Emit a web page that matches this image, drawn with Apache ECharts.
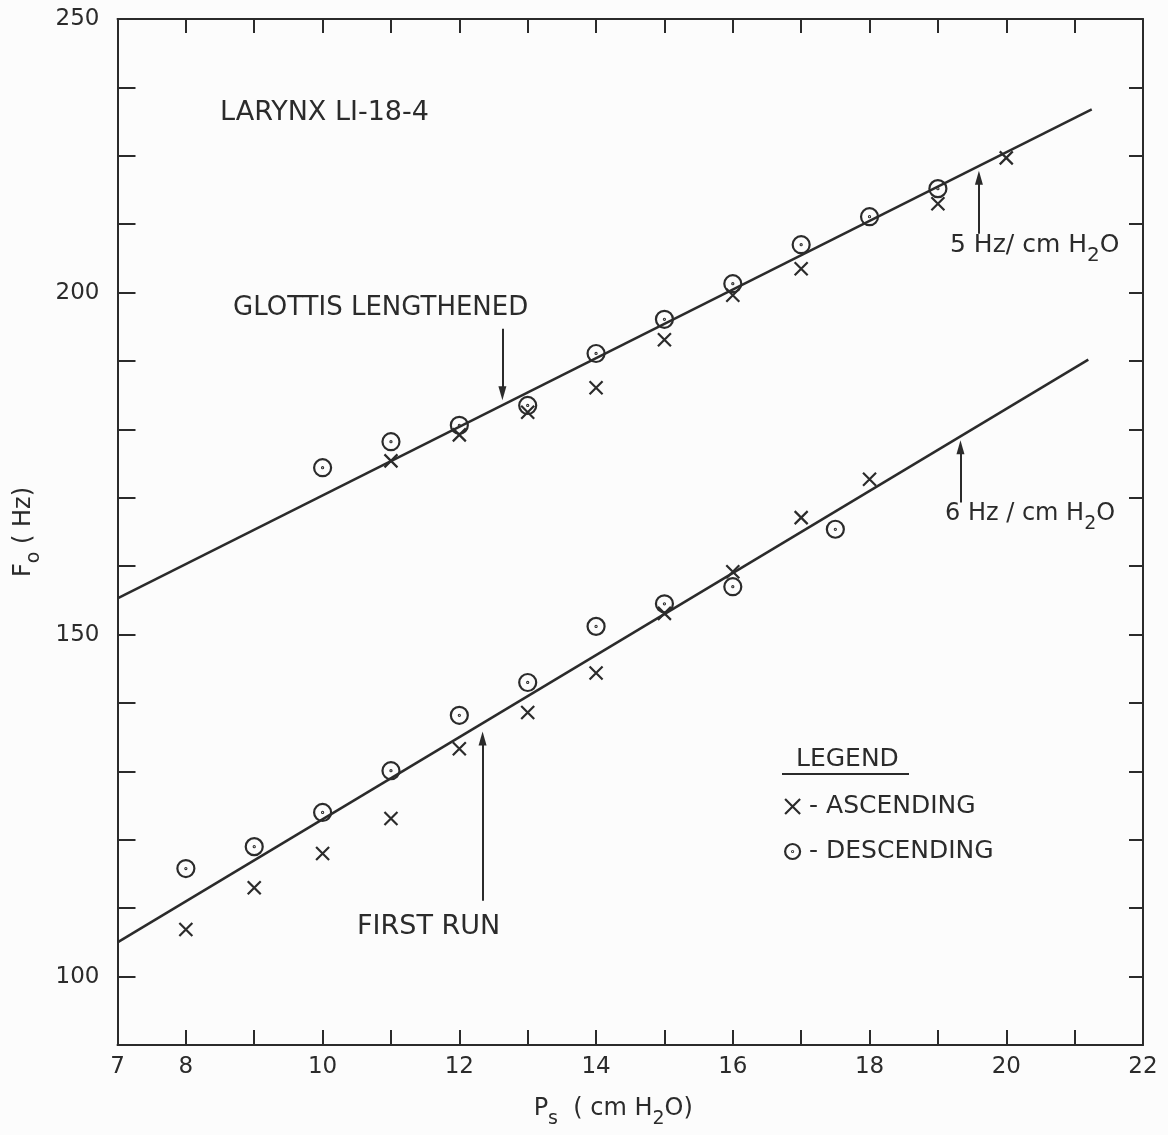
<!DOCTYPE html>
<html><head><meta charset="utf-8">
<script src="https://cdn.jsdelivr.net/npm/echarts@6/dist/echarts.min.js"></script>
<style>html,body{margin:0;padding:0;background:#fcfcfc}#c{width:1168px;height:1135px}</style>
</head><body><div id="c"></div>
<script>
// ---- data ----
const lowerAscX  = [8, 9, 10, 11, 12, 13, 14, 15, 16, 17, 18];
const lowerAscY  = [106.9, 113.0, 118.0, 123.1, 133.3, 138.6, 144.4, 153.1, 159.2, 167.1, 172.7];
const lowerDescX = [8, 9, 10, 11, 12, 13, 14, 15, 16, 17.5];
const lowerDescY = [115.8, 119.0, 124.0, 130.1, 138.2, 143.0, 151.2, 154.5, 157.0, 165.4];
const upperAscX  = [11, 12, 13, 14, 15, 16, 17, 19, 20];
const upperAscY  = [175.4, 179.2, 182.5, 186.1, 193.1, 199.6, 203.5, 213.0, 219.7];
const upperDescX = [10, 11, 12, 13, 14, 15, 16, 17, 18, 19];
const upperDescY = [174.4, 178.2, 180.6, 183.5, 191.1, 196.1, 201.3, 207.0, 211.1, 215.2];
const fitUpperX = [7, 21.25];
const fitUpperY = [155.3, 226.8];
const fitLowerX = [7, 21.2];
const fitLowerY = [105.0, 190.2];
const xTickLabels = [7, 8, 10, 12, 14, 16, 18, 20, 22];
const yTickValues = [100, 150, 200, 240];
const yTickLabels = ['100', '150', '200', '250'];
const seriesNames = ['ASCENDING', 'DESCENDING'];

// ---- styling ----
const ink = '#2b2b2b';
const FONT = '"DejaVu Sans", sans-serif';
const zip = (xs, ys) => xs.map((x, i) => [x, ys[i]]);
const SYM_X = 'path://M0,0L10,10M10,0L0,10';
const SYM_O = 'path://M0,8A8,8,0,1,1,16,8A8,8,0,1,1,0,8ZM7.5,8A0.5,0.5,0,1,1,8.5,8A0.5,0.5,0,1,1,7.5,8Z';
const mkRich = (fs) => ({
  n: {fontSize: fs, fontFamily: FONT, color: ink, verticalAlign: 'bottom', padding: [0, 0, 8, 0], lineHeight: fs + 3},
  s: {fontSize: Math.round(fs * 0.78), fontFamily: FONT, color: ink, verticalAlign: 'bottom', lineHeight: Math.round(fs * 0.78) + 2}
});
const txt = (x, y, text, size) => ({
  type: 'text', x: x, y: y, silent: true,
  style: {text: text, fill: ink, fontSize: size, fontFamily: FONT, verticalAlign: 'middle', align: 'left', rich: mkRich(size)}
});

const axisLine = {show: true, onZero: false, lineStyle: {color: ink, width: 2}};
const arrowLine = (x, y0, y1) => [{coord: [x, y0]}, {coord: [x, y1]}];
const markerStyle = {color: 'transparent', borderColor: ink, borderWidth: 2.2, opacity: 1};

const chart = echarts.init(document.getElementById('c'));
chart.setOption({
  backgroundColor: '#fcfcfc',
  animation: false,
  grid: {left: 117.5, right: 25, top: 19, bottom: 90, outerBoundsMode: 'none', containLabel: false},
  xAxis: [{
    type: 'value', min: 7, max: 22, interval: 1, position: 'bottom',
    axisLine: axisLine,
    axisTick: {show: true, inside: true, length: 15, lineStyle: {color: ink, width: 2}},
    splitLine: {show: false},
    axisLabel: {show: true, margin: 11, color: ink, fontSize: 23, fontFamily: FONT,
      showMinLabel: true, showMaxLabel: true,
      formatter: v => xTickLabels.includes(v) ? String(v) : ''},
    name: '{n|P}{s|s}{n|  ( cm H}{s|2}{n|O)}',
    nameLocation: 'middle', nameGap: 57, nameMoveOverlap: false,
    nameTextStyle: {rich: mkRich(24), padding: [0, 34, 0, 0]}
  }, {
    type: 'value', min: 7, max: 22, interval: 1, position: 'top',
    axisLine: axisLine,
    axisTick: {show: true, inside: true, length: 14, lineStyle: {color: ink, width: 2}},
    splitLine: {show: false}, axisLabel: {show: false}
  }],
  yAxis: [{
    type: 'value', min: 90, max: 240, interval: 10, position: 'left',
    axisLine: axisLine,
    axisTick: {show: true, inside: true, length: 18, lineStyle: {color: ink, width: 2}},
    splitLine: {show: false},
    axisLabel: {show: true, margin: 18, color: ink, fontSize: 23, fontFamily: FONT,
      showMinLabel: true, showMaxLabel: true,
      formatter: v => { const i = yTickValues.indexOf(v); return i >= 0 ? yTickLabels[i] : ''; }},
    name: '{n|F}{s|o}{n| ( Hz)}',
    nameLocation: 'middle', nameGap: 74, nameMoveOverlap: false,
    nameTextStyle: {rich: mkRich(24)}
  }, {
    type: 'value', min: 90, max: 240, interval: 10, position: 'right',
    axisLine: axisLine,
    axisTick: {show: true, inside: true, length: 14, lineStyle: {color: ink, width: 2}},
    splitLine: {show: false}, axisLabel: {show: false}
  }],
  legend: {
    data: seriesNames, orient: 'vertical', left: 779, top: 789, itemGap: 20,
    itemWidth: 15, itemHeight: 15, selectedMode: false,
    formatter: n => '- ' + n,
    textStyle: {color: ink, fontSize: 25, fontFamily: FONT, padding: [0, 0, 0, 4]},
    itemStyle: {borderWidth: 2.2, borderColor: ink, color: 'transparent', opacity: 1}
  },
  series: [
    {type: 'line', data: zip(fitUpperX, fitUpperY), symbol: 'none', silent: true,
     lineStyle: {color: ink, width: 2.5}, z: 1,
     markLine: {silent: true, symbol: ['none', 'triangle'], symbolSize: [8, 14],
       lineStyle: {color: ink, width: 2, type: 'solid'}, label: {show: false},
       data: [arrowLine(12.63, 194.7, 185.3), arrowLine(19.6, 208.6, 216.8)]}},
    {type: 'line', data: zip(fitLowerX, fitLowerY), symbol: 'none', silent: true,
     lineStyle: {color: ink, width: 2.5}, z: 1,
     markLine: {silent: true, symbol: ['none', 'triangle'], symbolSize: [8, 14],
       lineStyle: {color: ink, width: 2, type: 'solid'}, label: {show: false},
       data: [arrowLine(19.33, 169.3, 177.4), arrowLine(12.34, 111.1, 134.8)]}},
    {name: seriesNames[0], type: 'scatter', data: zip(lowerAscX, lowerAscY), symbol: SYM_X, symbolSize: 13,
     itemStyle: markerStyle, z: 3},
    {name: seriesNames[1], type: 'scatter', data: zip(lowerDescX, lowerDescY), symbol: SYM_O, symbolSize: 17,
     itemStyle: markerStyle, z: 3},
    {name: seriesNames[0], type: 'scatter', data: zip(upperAscX, upperAscY), symbol: SYM_X, symbolSize: 13,
     itemStyle: markerStyle, z: 3},
    {name: seriesNames[1], type: 'scatter', data: zip(upperDescX, upperDescY), symbol: SYM_O, symbolSize: 17,
     itemStyle: markerStyle, z: 3}
  ],
  graphic: [
    txt(220, 113, 'LARYNX LI-18-4', 27),
    txt(233, 308, 'GLOTTIS LENGTHENED', 26),
    txt(950, 252, '{n|5 Hz/ cm H}{s|2}{n|O}', 25),
    txt(945, 520, '{n|6 Hz / cm H}{s|2}{n|O}', 24),
    txt(357, 927, 'FIRST RUN', 27),
    txt(796, 759, 'LEGEND', 25),
    {type: 'line', silent: true, shape: {x1: 782, y1: 774, x2: 909, y2: 774}, style: {stroke: ink, lineWidth: 2}}
  ]
});
</script></body></html>
